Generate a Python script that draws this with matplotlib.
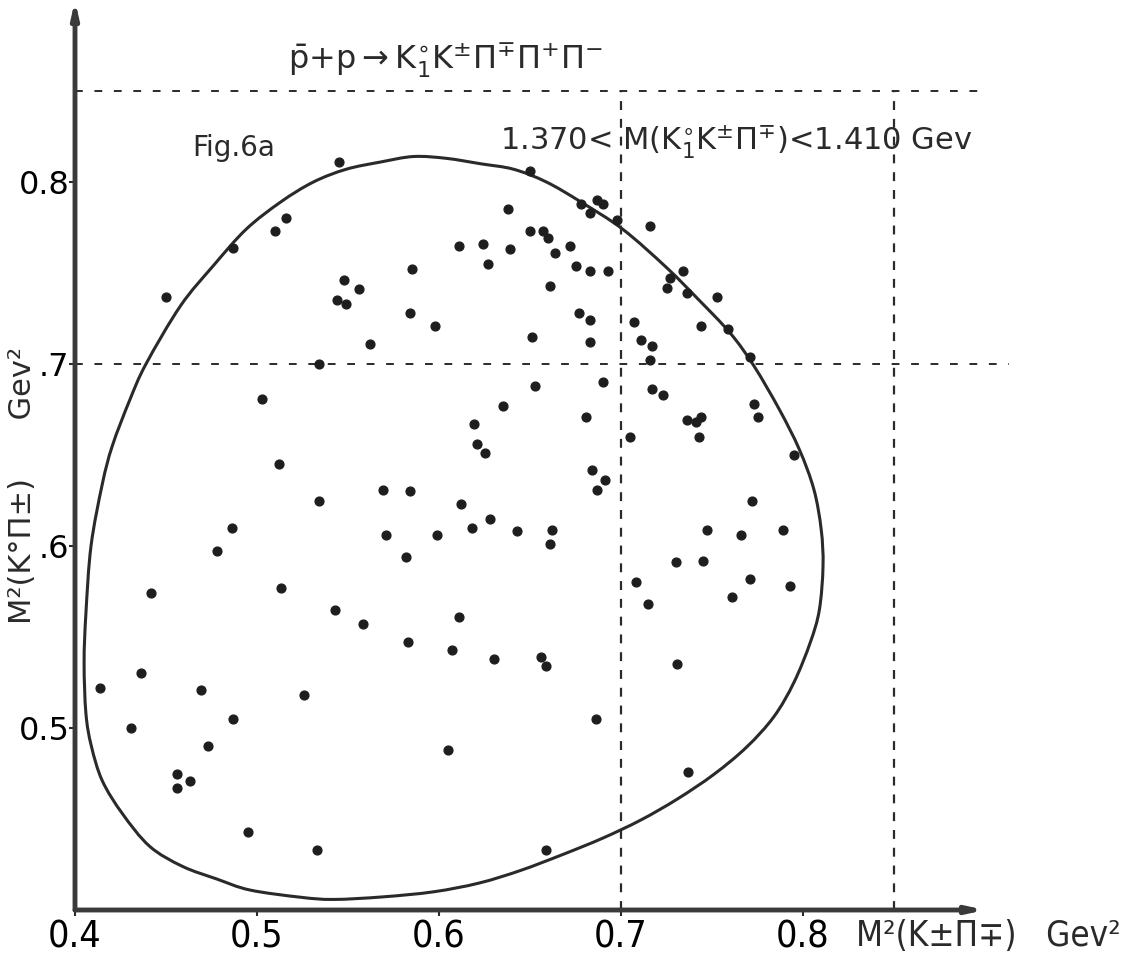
import matplotlib.pyplot as plt
import numpy as np
from matplotlib.path import Path
from matplotlib.patches import PathPatch

# Dalitz plot: M^2(K+- pi-+) vs M^2(K0 pi+-), events (GeV^2)
x_pts = [0.545, 0.650, 0.678, 0.516, 0.510, 0.487, 0.450, 0.638, 0.650, 0.657,
         0.660, 0.611, 0.624, 0.639, 0.664, 0.672, 0.675, 0.627, 0.585, 0.548,
         0.556, 0.544, 0.549, 0.661, 0.584, 0.598, 0.677, 0.562, 0.651, 0.534,
         0.653, 0.503, 0.635, 0.619, 0.621, 0.625, 0.512, 0.569, 0.584, 0.534,
         0.612, 0.628, 0.486, 0.618, 0.643, 0.662, 0.571, 0.599, 0.661, 0.478,
         0.582, 0.442, 0.513, 0.543, 0.558, 0.611, 0.583, 0.607, 0.630, 0.656,
         0.659, 0.436, 0.414, 0.469, 0.526, 0.487, 0.431, 0.473, 0.605, 0.456,
         0.463, 0.456, 0.495, 0.533, 0.659, 0.687, 0.690, 0.683, 0.698, 0.716,
         0.683, 0.693, 0.734, 0.727, 0.725, 0.736, 0.753, 0.683, 0.707, 0.744,
         0.759, 0.683, 0.711, 0.717, 0.716, 0.771, 0.690, 0.717, 0.723, 0.681,
         0.736, 0.741, 0.744, 0.773, 0.775, 0.743, 0.705, 0.795, 0.684, 0.691,
         0.687, 0.772, 0.747, 0.766, 0.789, 0.730, 0.745, 0.708, 0.771, 0.793,
         0.715, 0.761, 0.731, 0.686, 0.737]
y_pts = [0.811, 0.806, 0.788, 0.780, 0.773, 0.764, 0.737, 0.785, 0.773, 0.773,
         0.769, 0.765, 0.766, 0.763, 0.761, 0.765, 0.754, 0.755, 0.752, 0.746,
         0.741, 0.735, 0.733, 0.743, 0.728, 0.721, 0.728, 0.711, 0.715, 0.700,
         0.688, 0.681, 0.677, 0.667, 0.656, 0.651, 0.645, 0.631, 0.630, 0.625,
         0.623, 0.615, 0.610, 0.610, 0.608, 0.609, 0.606, 0.606, 0.601, 0.597,
         0.594, 0.574, 0.577, 0.565, 0.557, 0.561, 0.547, 0.543, 0.538, 0.539,
         0.534, 0.530, 0.522, 0.521, 0.518, 0.505, 0.500, 0.490, 0.488, 0.475,
         0.471, 0.467, 0.443, 0.433, 0.433, 0.790, 0.788, 0.783, 0.779, 0.776,
         0.751, 0.751, 0.751, 0.747, 0.742, 0.739, 0.737, 0.724, 0.723, 0.721,
         0.719, 0.712, 0.713, 0.710, 0.702, 0.704, 0.690, 0.686, 0.683, 0.671,
         0.669, 0.668, 0.671, 0.678, 0.671, 0.660, 0.660, 0.650, 0.642, 0.636,
         0.631, 0.625, 0.609, 0.606, 0.609, 0.591, 0.592, 0.580, 0.582, 0.578,
         0.568, 0.572, 0.535, 0.505, 0.476]

# hand-drawn kinematic boundary (closed, first point not repeated)
bound_x = [0.645, 0.668, 0.690, 0.711, 0.731, 0.751, 0.769, 0.784, 0.795,
           0.804, 0.809, 0.811, 0.810, 0.806, 0.798, 0.787, 0.773, 0.760, 0.742,
           0.725, 0.701, 0.678, 0.659, 0.641, 0.623, 0.604, 0.586, 0.568, 0.549,
           0.531, 0.513, 0.494, 0.476, 0.458, 0.439, 0.430, 0.4205, 0.415, 0.4088,
           0.406, 0.405, 0.406, 0.409, 0.415, 0.426, 0.441, 0.459, 0.478, 0.496,
           0.524, 0.542, 0.569, 0.597, 0.622]
bound_y = [0.4218, 0.4305, 0.4395, 0.4495, 0.4610, 0.4745, 0.4895, 0.5062, 0.525,
           0.547, 0.565, 0.589, 0.609, 0.631, 0.653, 0.675, 0.699, 0.717, 0.736,
           0.753, 0.774, 0.789, 0.800, 0.807, 0.810, 0.813, 0.814, 0.811, 0.807,
           0.800, 0.789, 0.774, 0.754, 0.732, 0.700, 0.680, 0.655, 0.634, 0.600,
           0.563, 0.536, 0.508, 0.490, 0.471, 0.453, 0.435, 0.424, 0.417, 0.411,
           0.407, 0.4058, 0.4072, 0.4100, 0.4148]

x_ticks = [0.4, 0.5, 0.6, 0.7, 0.8]
x_ticklabels = ['0.4', '0.5', '0.6', '0.7', '0.8']
y_ticks = [0.5, 0.6, 0.7, 0.8]
y_ticklabels = ['0.5', '.6', '.7', '0.8']

# mass cuts drawn as dashed lines
cut_x = [0.7, 0.85]
cut_y = [0.7, 0.85]

W, H = 1121, 957
ink = '#2a2a2a'

fig = plt.figure(figsize=(W / 100, H / 100), dpi=100)
ax = fig.add_axes([75 / W, 47 / H, 1 - 75 / W, 910 / H])
ax.set_xlim(0.4, 0.4 + 1046 / 1820)
ax.set_ylim(0.4, 0.9)
for s in ax.spines.values():
    s.set_visible(False)

# axes drawn by hand with arrow heads
arrow = dict(arrowstyle='-|>,head_width=0.2,head_length=0.9',
             lw=3.5, color='#3a3a3a', shrinkA=0, shrinkB=0)
ax.annotate('', xy=(0.4, 0.9), xytext=(0.4, 0.4), arrowprops=arrow)
ax.annotate('', xy=(0.9, 0.4), xytext=(0.4, 0.4), arrowprops=arrow)

# dashed cut lines
ax.plot([0.4, 0.913], [cut_y[0], cut_y[0]], color=ink, lw=1.4, ls=(0, (4, 6)))
ax.plot([0.4, 0.896], [cut_y[1], cut_y[1]], color=ink, lw=1.4, ls=(0, (4, 6)))
for cx in cut_x:
    ax.plot([cx, cx], [0.4, cut_y[1]], color=ink, lw=1.6, ls=(0, (4, 4)))

# smooth closed boundary through the read points (Catmull-Rom -> Bezier)
P = np.column_stack([bound_x, bound_y])
n = len(P)
verts = [P[0]]
codes = [Path.MOVETO]
for i in range(n):
    p0, p1, p2, p3 = P[i - 1], P[i], P[(i + 1) % n], P[(i + 2) % n]
    verts += [p1 + (p2 - p0) / 6, p2 - (p3 - p1) / 6, p2]
    codes += [Path.CURVE4] * 3
ax.add_patch(PathPatch(Path(verts, codes), fill=False, edgecolor=ink, lw=2.2))

ax.scatter(x_pts, y_pts, s=40, color='#1e1e1e', zorder=3)

ax.set_xticks(x_ticks)
ax.set_xticklabels(x_ticklabels, fontsize=27, fontstretch='condensed')
ax.set_yticks(y_ticks)
ax.set_yticklabels(y_ticklabels, fontsize=23)
ax.tick_params(axis='x', length=4, width=1.5, pad=3, color=ink)
ax.tick_params(axis='y', length=4, width=1.5, pad=0, color=ink)

def px(x, y):
    return x / W, 1 - y / H

fig.text(*px(445, 60),
         r'$\bar{\mathrm{p}}$+p$\rightarrow$K$^{\circ}_{1}$K$^{\pm}$Π$^{\mp}$Π$^{+}$Π$^{-}$',
         fontsize=23, ha='center', va='center', color=ink)
fig.text(*px(234, 148), 'Fig.6a', fontsize=20, ha='center', va='center', color=ink)
fig.text(*px(736, 142),
         r'1.370< M(K$^{\circ}_{1}$K$^{\pm}$Π$^{\mp}$)<1.410 Gev',
         fontsize=22, ha='center', va='center', color=ink)
fig.text(*px(23, 486), 'M²(K°Π±)      Gev²', rotation=90, fontsize=22,
         ha='center', va='center', color=ink)
fig.text(*px(856, 936), 'M²(K±Π∓)   Gev²', fontsize=25, fontstretch='condensed',
         ha='left', va='center', color=ink)

fig.savefig('out.png', dpi=100, facecolor='white')
